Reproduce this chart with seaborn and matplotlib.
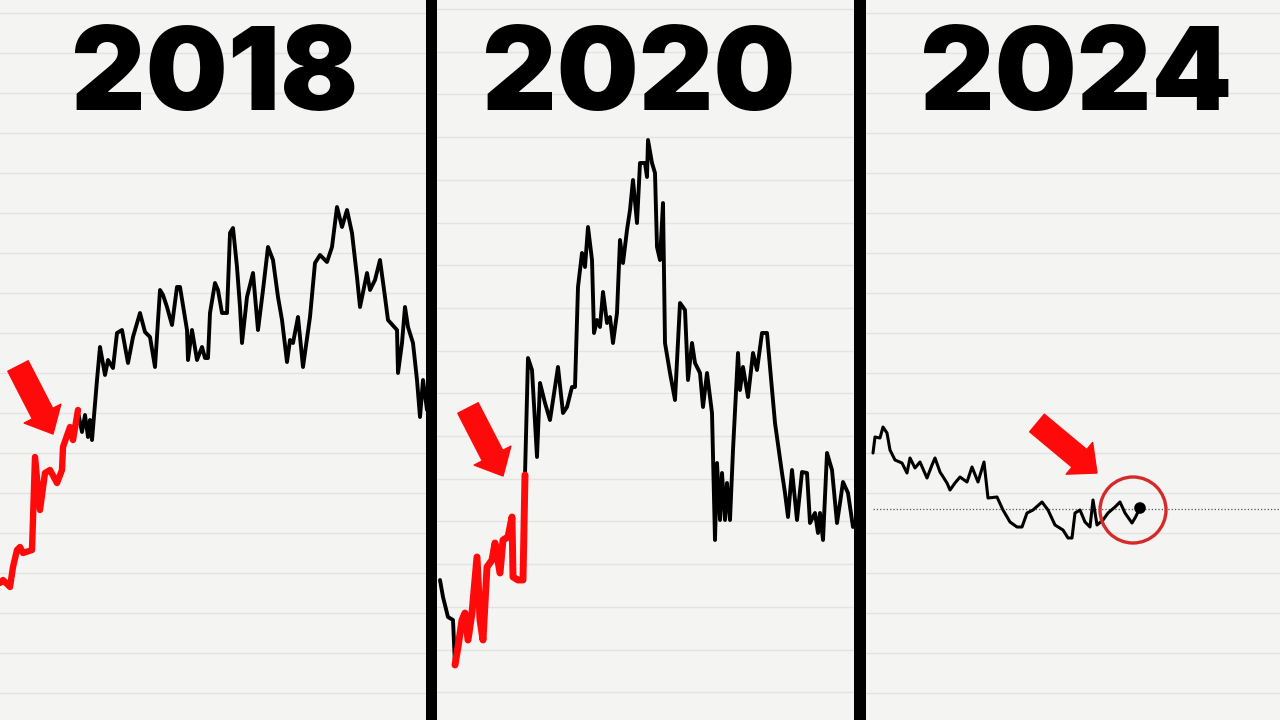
import matplotlib
matplotlib.use('Agg')
import matplotlib.pyplot as plt
from matplotlib.patches import Circle, FancyArrowPatch
import seaborn as sns
import pandas as pd

# values: x = trading day within the panel, level = price level
years = ['2018', '2020', '2024']

red_2018_x = [0, 3, 10, 13, 17, 20, 23, 32, 35, 40, 45, 50, 57, 62, 63, 70, 73, 78]
red_2018 = [137, 140, 133, 153, 170, 173, 167, 170, 263, 210, 247, 250, 237, 250, 273, 293, 280, 310]

black_2018_x = [78, 82, 85, 88, 90, 92, 97, 100, 105, 108, 113, 117, 122, 128, 133, 140, 145, 150, 155, 160,
                163, 167, 172, 177, 180, 187, 188, 192, 197, 202, 205, 208, 210, 215, 218, 222, 227, 230, 233, 237,
                240, 242, 247, 253, 258, 263, 268, 273, 278, 282, 287, 290, 293, 298, 303, 310, 315, 320, 327, 332,
                337, 342, 347, 352, 357, 360, 367, 370, 375, 380, 385, 388, 397, 398, 402, 405, 408, 413, 417, 420,
                423, 427]
black_2018 = [308, 288, 305, 283, 300, 280, 340, 373, 345, 360, 352, 387, 390, 357, 383, 407, 388, 383, 353, 430,
              425, 413, 395, 433, 433, 390, 360, 390, 360, 373, 362, 362, 407, 437, 430, 407, 407, 487, 492, 453,
              413, 377, 423, 447, 390, 430, 473, 460, 423, 400, 358, 380, 377, 403, 353, 403, 457, 465, 458, 473,
              513, 493, 510, 487, 443, 413, 447, 430, 440, 460, 423, 400, 390, 347, 377, 413, 393, 377, 340, 303,
              340, 310]

lead_2020_x = [3, 6, 11, 16, 18]
lead_2020 = [140, 123, 103, 100, 55]

red_2020_x = [18, 21, 25, 28, 31, 35, 40, 43, 46, 50, 55, 58, 63, 66, 71, 75, 76, 81, 86, 88]
red_2020 = [55, 73, 100, 107, 80, 107, 163, 100, 80, 153, 160, 177, 147, 180, 183, 203, 143, 140, 140, 245]

black_2020_x = [88, 91, 95, 100, 103, 108, 113, 118, 121, 126, 130, 135, 138, 141, 145, 148, 151, 155, 157, 160,
                163, 166, 170, 173, 176, 180, 183, 186, 190, 193, 196, 200, 203, 208, 210, 211, 215, 218, 220, 223,
                226, 228, 233, 238, 243, 248, 251, 255, 258, 263, 266, 270, 275, 278, 280, 283, 285, 288, 290, 293,
                296, 301, 303, 306, 311, 316, 320, 325, 330, 333, 338, 345, 348, 351, 355, 360, 365, 370, 373, 378,
                381, 383, 386, 390, 395, 400, 403, 406, 411, 416]
black_2020 = [245, 362, 350, 263, 337, 317, 300, 333, 353, 307, 313, 333, 333, 433, 467, 453, 493, 460, 387, 400,
              393, 428, 397, 403, 377, 407, 480, 457, 490, 510, 540, 497, 557, 557, 543, 580, 557, 547, 473, 460,
              517, 377, 347, 320, 417, 410, 340, 377, 357, 347, 313, 347, 307, 180, 257, 200, 247, 200, 237, 200,
              270, 367, 330, 353, 323, 367, 350, 387, 387, 353, 297, 247, 227, 203, 250, 200, 248, 247, 197, 207,
              187, 207, 180, 267, 250, 197, 217, 238, 227, 193]

black_2024_x = [7, 9, 14, 17, 21, 24, 29, 36, 41, 44, 49, 54, 61, 66, 69, 74, 81, 84, 89, 94,
                101, 106, 112, 118, 122, 131, 137, 144, 151, 156, 161, 167, 176, 182, 189, 197, 202, 206, 209, 214,
                219, 224, 227, 231, 237, 242, 249, 254, 259, 266, 269, 274]
black_2024 = [267, 283, 282, 293, 287, 270, 260, 257, 247, 262, 252, 258, 242, 255, 262, 248, 237, 230, 237, 243,
              238, 253, 238, 258, 222, 223, 210, 198, 193, 193, 207, 210, 218, 210, 195, 190, 182, 182, 207, 210,
              198, 193, 220, 195, 200, 207, 213, 218, 207, 197, 202, 212]
current_2024 = 211

sns.set_theme(style='white')
plt.rcParams['font.family'] = ['Inter', 'DejaVu Sans']

W, H = 1280, 720
fig = plt.figure(figsize=(12.8, 7.2), dpi=100, facecolor='black')

panels = [(0, 426), (437, 854), (866, 1280)]
grid_step = [40, 42.7, 40]
grid_off = [13, 9, 13]
axes = []
for (l, r), step, off in zip(panels, grid_step, grid_off):
    ax = fig.add_axes([l / W, 0, (r - l) / W, 1])
    ax.set_facecolor('#f4f4f3')
    ax.set_xlim(0, r - l)
    ax.set_ylim(0, H)
    y = off
    while y < H:
        ax.axhline(H - y, color='#e3e3e3', lw=1, zorder=0)
        y += step
    ax.set_xticks([])
    ax.set_yticks([])
    for s in ax.spines.values():
        s.set_visible(False)
    axes.append(ax)

ax1, ax2, ax3 = axes

def draw(ax, xs, ys, color, lw):
    df = pd.DataFrame({'day': xs, 'level': ys})
    sns.lineplot(data=df, x='day', y='level', ax=ax, color=color, lw=lw,
                 estimator=None, sort=False, solid_joinstyle='round', solid_capstyle='round')

draw(ax1, black_2018_x, black_2018, 'black', 2.8)
draw(ax1, red_2018_x, red_2018, '#ff0a0a', 4.6)

draw(ax2, lead_2020_x, lead_2020, 'black', 2.8)
draw(ax2, black_2020_x, black_2020, 'black', 2.8)
draw(ax2, red_2020_x, red_2020, '#ff0a0a', 5.0)

ax3.axhline(current_2024, xmin=7 / 414, color='#555555', lw=0.9, ls=':')
draw(ax3, black_2024_x, black_2024, 'black', 2.2)
sns.scatterplot(x=black_2024_x[-1:], y=black_2024[-1:], ax=ax3, color='black', s=70, zorder=5, edgecolor='none')
ax3.add_patch(Circle((267, 210), 33, fill=False, ec='#d62a2a', lw=2.4, zorder=6))

for ax in axes:
    ax.set_xlabel('')
    ax.set_ylabel('')

# big year headings
for year, cx in zip(years, [215, 639, 1076]):
    fig.text(cx / W, 1 - 110 / H, year, ha='center', va='baseline',
             fontsize=83, fontweight='black', color='black')

# red arrows
arrows = [((18, 354), (53, 286)), ((468, 312), (503, 244)), ((1037, 297), (1097, 247))]
for tail, tip in arrows:
    fig.add_artist(FancyArrowPatch(
        tail, tip, transform=None,
        arrowstyle='simple,head_length=0.75,head_width=1.35,tail_width=0.75',
        mutation_scale=22, color='#ff0a0a', shrinkA=0, shrinkB=0, zorder=10))

fig.savefig('out.png', dpi=100, facecolor='black')
